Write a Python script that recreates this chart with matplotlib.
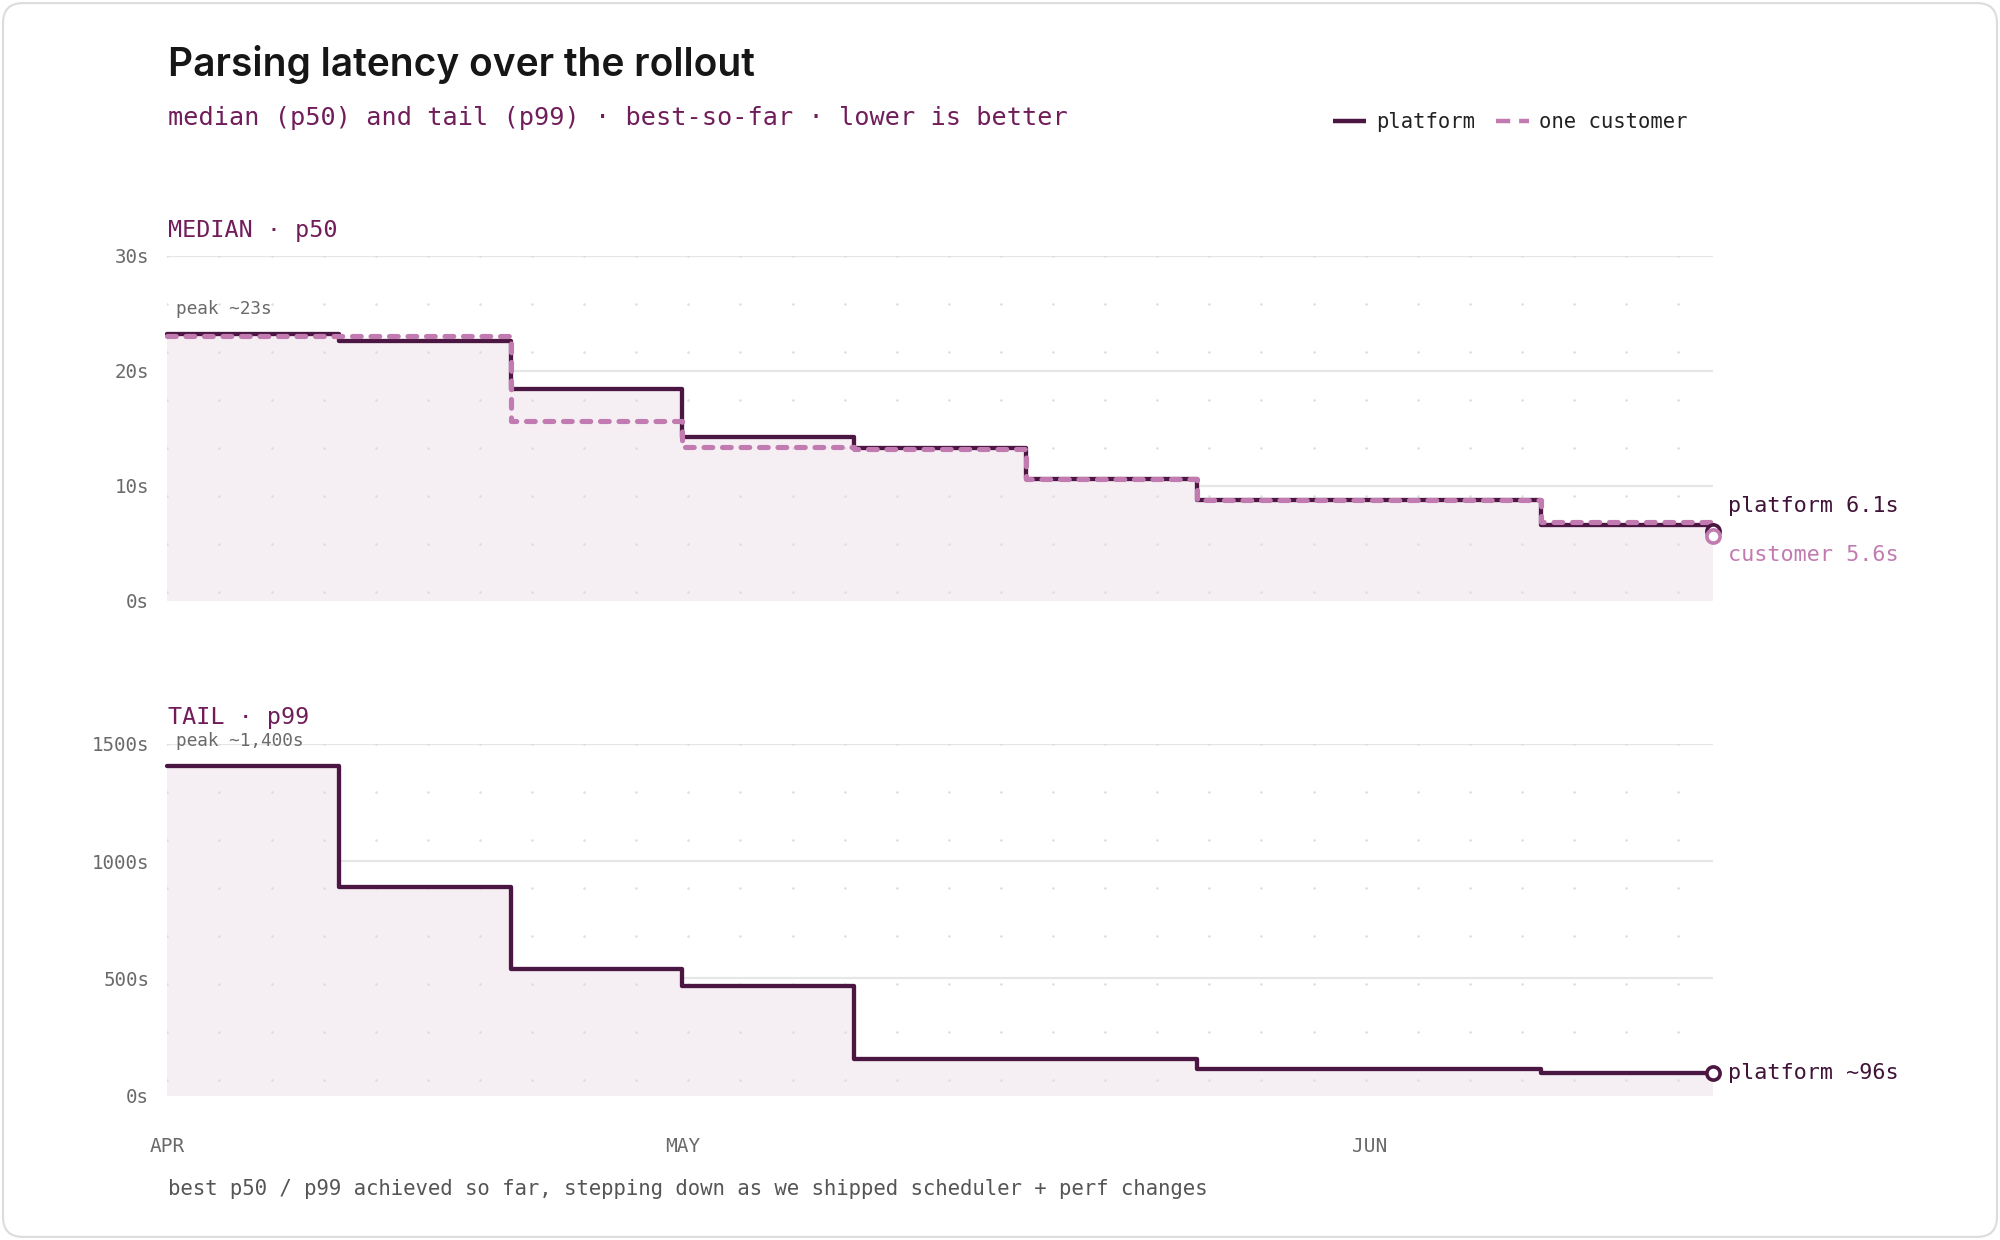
import numpy as np
import matplotlib
matplotlib.use("Agg")
import matplotlib.pyplot as plt
from matplotlib.lines import Line2D
from matplotlib.patches import FancyBboxPatch

# ---------------- data ----------------
steps = np.arange(10)  # rollout checkpoints (equally spaced)
month_ticks = [0, 3, 7]
month_labels = ["APR", "MAY", "JUN"]

p50_platform = [23.2, 22.6, 18.4, 14.2, 13.3, 10.6, 8.8, 8.8, 6.6, 6.1]
p50_customer = [23.0, 23.0, 15.6, 13.4, 13.2, 10.6, 8.8, 8.8, 6.85, 5.6]
p99_platform = [1405, 888, 538, 467, 156, 156, 112, 112, 98, 96]

p50_ticks = [0, 10, 20, 30]
p99_ticks = [0, 500, 1000, 1500]

# ---------------- style ----------------
DARK = "#4b1642"
PINK = "#c27bb0"
PURPLE = "#701d5a"
FILL = "#f5eff4"
GRID = "#e6e6e6"
DOT = "#dcdcdc"
TICK = "#6a6a6a"
MONO = ["DejaVu Sans Mono"]

W, H = 2000, 1240
fig = plt.figure(figsize=(W / 100, H / 100), dpi=100, facecolor="white")

border = FancyBboxPatch((0.0015, 0.0025), 0.997, 0.995,
                        boxstyle="round,pad=0,rounding_size=0.01",
                        mutation_aspect=W / H,
                        transform=fig.transFigure, fc="white", ec="#dcdcdc", lw=1.5,
                        zorder=-10)
fig.patches.append(border)

left_px, right_px = 167.3, 1712.6


def make_ax(top_px, bottom_px):
    return fig.add_axes([left_px / W, 1 - bottom_px / H,
                         (right_px - left_px) / W, (bottom_px - top_px) / H])


ax1 = make_ax(255.7, 600.7)
ax2 = make_ax(743.7, 1095.7)


def style_axis(ax, ymax, ticks, top_px, bottom_px):
    ax.set_xlim(0, 9)
    ax.set_ylim(0, ymax)
    for s in ax.spines.values():
        s.set_visible(False)
    ax.set_yticks(ticks)
    ax.set_yticklabels([f"{t}s" for t in ticks], family=MONO, fontsize=13.8, color=TICK)
    ax.tick_params(axis="y", length=0, pad=13)
    ax.tick_params(axis="x", length=0)
    for t in ticks:
        ax.axhline(t, color=GRID, lw=1.6, zorder=0)
    # background dot pattern (pixel spaced)
    wpx = right_px - left_px
    hpx = bottom_px - top_px
    xs = np.arange(0, wpx + 0.1, 52.1) / wpx
    ys = 1 - np.arange(0, hpx, 48.0) / hpx
    gx, gy = np.meshgrid(xs, ys)
    ax.scatter(gx.ravel(), gy.ravel(), s=3.2, color=DOT, lw=0,
               transform=ax.transAxes, zorder=1)


style_axis(ax1, 30, p50_ticks, 255.7, 600.7)
style_axis(ax2, 1500, p99_ticks, 743.7, 1095.7)

ax1.set_xticks([])
ax2.set_xticks(month_ticks)
ax2.set_xticklabels(month_labels, family=MONO, fontsize=14, color=TICK)
ax2.tick_params(axis="x", pad=30)

# ---- median panel ----
ax1.fill_between(steps, p50_platform, step="post", color=FILL, lw=0, zorder=0.5)
ax1.step(steps, p50_platform, where="post", color=DARK, lw=3.1,
         solid_joinstyle="round", solid_capstyle="round", zorder=3, clip_on=False)
ax1.step(steps, p50_customer, where="post", color=PINK, lw=3.7,
         linestyle=(0, (1.7, 1.9)), dash_capstyle="round", dash_joinstyle="round",
         zorder=4, clip_on=False)
ax1.plot([steps[-1]], [p50_platform[-1]], "o", ms=9.5, mfc="white", mec=DARK,
         mew=2.6, zorder=5, clip_on=False)
ax1.plot([steps[-1]], [p50_customer[-1]], "o", ms=9.5, mfc="white", mec=PINK,
         mew=2.6, zorder=6, clip_on=False)

ax1.annotate(f"platform {p50_platform[-1]}s", xy=(steps[-1], p50_platform[-1]),
             xytext=(11, 17.5), textcoords="offset points", va="center", ha="left",
             family=MONO, fontsize=15.7, color="#3f1238", annotation_clip=False)
ax1.annotate(f"customer {p50_customer[-1]}s", xy=(steps[-1], p50_customer[-1]),
             xytext=(11, -13.5), textcoords="offset points", va="center", ha="left",
             family=MONO, fontsize=15.7, color=PINK, annotation_clip=False)
ax1.annotate("peak ~23s", xy=(0, p50_platform[0]), xytext=(6.5, 18),
             textcoords="offset points", va="center", ha="left",
             family=MONO, fontsize=12.8, color=TICK, annotation_clip=False)

# ---- tail panel ----
ax2.fill_between(steps, p99_platform, step="post", color=FILL, lw=0, zorder=0.5)
ax2.step(steps, p99_platform, where="post", color=DARK, lw=3.1,
         solid_joinstyle="round", solid_capstyle="round", zorder=3, clip_on=False)
ax2.plot([steps[-1]], [p99_platform[-1]], "o", ms=9.5, mfc="white", mec=DARK,
         mew=2.6, zorder=5, clip_on=False)
ax2.annotate(f"platform ~{p99_platform[-1]}s", xy=(steps[-1], p99_platform[-1]),
             xytext=(11, 0), textcoords="offset points", va="center", ha="left",
             family=MONO, fontsize=15.7, color="#3f1238", annotation_clip=False)
ax2.annotate("peak ~1,400s", xy=(0, p99_platform[0]), xytext=(6.5, 18),
             textcoords="offset points", va="center", ha="left",
             family=MONO, fontsize=12.8, color=TICK, annotation_clip=False)

# ---- texts ----
fig.text(168 / W, 1 - 64 / H, "Parsing latency over the rollout", family=["Inter", "DejaVu Sans"],
         fontsize=28, fontweight="semibold", color="#161616", va="center", ha="left")
fig.text(168 / W, 1 - 118 / H,
         "median (p50) and tail (p99) · best-so-far · lower is better",
         family=MONO, fontsize=18.2, color=PURPLE, va="center", ha="left")
fig.text(168 / W, 1 - 231 / H, "MEDIAN · p50", family=MONO, fontsize=16.8,
         color=PURPLE, va="center", ha="left")
fig.text(168 / W, 1 - 718 / H, "TAIL · p99", family=MONO, fontsize=16.8,
         color=PURPLE, va="center", ha="left")
fig.text(168 / W, 1 - 1189 / H,
         "best p50 / p99 achieved so far, stepping down as we shipped scheduler + perf changes",
         family=MONO, fontsize=14.9, color="#555555", va="center", ha="left")

# ---- legend ----
handles = [Line2D([], [], color=DARK, lw=3.2, solid_capstyle="butt"),
           Line2D([], [], color=PINK, lw=3.2, linestyle=(0, (3.2, 2.0)),
                  dash_capstyle="butt")]
leg = fig.legend(handles, ["platform", "one customer"], ncol=2, loc="center left",
                 bbox_to_anchor=(1333 / W, 1 - 122 / H), frameon=False,
                 prop={"family": MONO, "size": 14.8}, handlelength=1.6,
                 handletextpad=0.5, columnspacing=1.0, borderpad=0, borderaxespad=0)
for t in leg.get_texts():
    t.set_color("#222222")

fig.savefig("out.png", dpi=100, facecolor="white")
